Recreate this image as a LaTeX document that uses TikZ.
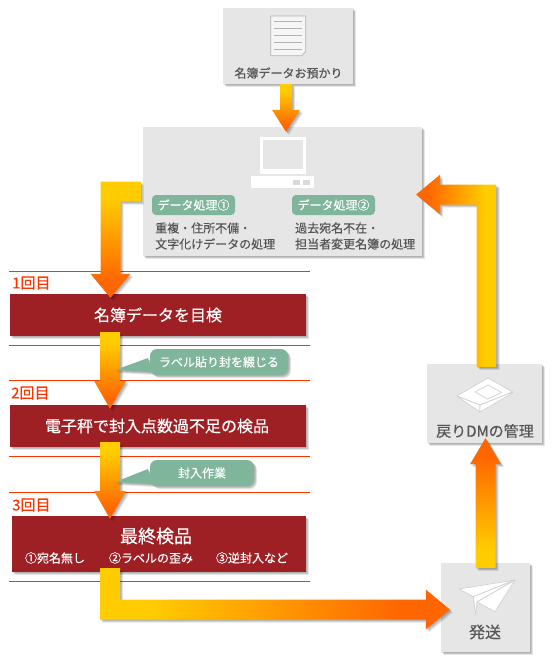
\documentclass[tikz,border=0pt]{standalone}
\usepackage{fontspec}
\setmainfont{Noto Sans CJK JP}
\newfontfamily\heavyjp[FakeBold=0.35]{Noto Sans CJK JP}
\usetikzlibrary{calc,shadows}
\definecolor{panelgray}{RGB}{230,230,230}
\definecolor{labelgray}{RGB}{85,85,85}
\definecolor{stepred}{RGB}{158,32,37}
\definecolor{ruleorange}{RGB}{255,51,0}
\definecolor{notegreen}{RGB}{127,181,155}
\definecolor{flowyellow}{RGB}{255,204,0}
\definecolor{floworange}{RGB}{255,102,0}
\pgfdeclarehorizontalshading{flowshade}{100bp}{color(0bp)=(flowyellow); color(32bp)=(flowyellow); color(68bp)=(floworange); color(100bp)=(floworange)}
\tikzset{
  softshadow/.style={
    drop shadow={shadow xshift=1pt,shadow yshift=-1pt,opacity=.10,fill=black},
    drop shadow={shadow xshift=2pt,shadow yshift=-2pt,opacity=.14,fill=black},
    drop shadow={shadow xshift=3pt,shadow yshift=-3pt,opacity=.10,fill=black}},
  panel/.style={softshadow,fill=panelgray,inner sep=0pt},
  stepbox/.style={softshadow,fill=stepred,inner sep=0pt,minimum height=42pt},
  tagbox/.style={fill=notegreen,rounded corners=4pt,inner sep=0pt,minimum width=83pt,minimum height=20pt,text=white,font=\heavyjp\fontsize{12}{12}\selectfont},
  notebox/.style={softshadow,fill=notegreen,rounded corners=7pt,inner sep=0pt,minimum height=26pt,text=white,font=\heavyjp\fontsize{12}{12}\selectfont},
  graytext/.style={text=labelgray,inner sep=0pt,font=\heavyjp\fontsize{12}{12}\selectfont},
  steptext/.style={text=white,inner sep=0pt,font=\heavyjp\fontsize{16}{16}\selectfont},
  subtext/.style={text=white,inner sep=0pt,font=\heavyjp\fontsize{12}{12}\selectfont},
  roundlabel/.style={text=ruleorange,anchor=west,inner sep=0pt,font=\heavyjp\fontsize{15}{15}\selectfont},
  iconline/.style={draw=black!18,fill=white,line width=.7pt,line join=round},
  flowarrow/.style={softshadow,shading=flowshade}
}
\newcommand{\flowstraight}[6]{%
  \coordinate (flowbase) at ($(#3)!#6pt!(#2)$);
  \shade[flowarrow,shading angle=#1]
    ($(#2)!#4pt!90:(#3)$)--($(flowbase)!#4pt!-90:(#2)$)--($(flowbase)!#5pt!-90:(#2)$)
    --(#3)--($(flowbase)!#5pt!90:(#2)$)--($(flowbase)!#4pt!90:(#2)$)
    --($(#2)!#4pt!-90:(#3)$)--cycle;
}
\newcommand{\flowbent}[4]{%
  \coordinate (flowbase) at ($(#4)!24pt!(#3)$);
  \shade[flowarrow,shading angle=#1]
    ($(#2)+(#3)!10pt!(#4)-(#3)$)--($(#3)!10pt!(#2)+(#3)!10pt!(#4)-(#3)$)
    --($(flowbase)+(#3)!10pt!(#2)-(#3)$)--($(flowbase)+(#3)!20pt!(#2)-(#3)$)
    --(#4)--($(flowbase)-(#3)!20pt!(#2)+(#3)$)--($(flowbase)-(#3)!10pt!(#2)+(#3)$)
    --($(#3)-(#3)!10pt!(#2)-(#3)!10pt!(#4)+(#3)+(#3)$)
    --($(#2)-(#3)!10pt!(#4)+(#3)$)--cycle;
}
\begin{document}
\begin{tikzpicture}[x=1pt,y=-1pt]
  \useasboundingbox (0,0) rectangle (555,665);
  \foreach \ruley in {271,345,380,456.5,492,581} {
    \draw[ruleorange,line width=.8pt] (9,\ruley)--(310,\ruley);
  }

  \node[panel,minimum width=130pt,minimum height=76pt] (intake) at (288,46) {};
  \node[panel,minimum width=279pt,minimum height=129pt] (proc) at (282.5,191.5) {};
  \node[panel,minimum width=115pt,minimum height=79pt] (return) at (484.5,403.5) {};
  \node[panel,minimum width=89pt,minimum height=89pt] (send) at (485.5,607.5) {};
  \node[stepbox,minimum width=296pt] (stepa) at (158,315) {};
  \node[stepbox,minimum width=296pt] (stepb) at (158,426) {};
  \node[stepbox,minimum width=294pt,minimum height=56pt] (stepc) at (159,544) {};

  \draw[draw=black!30,fill=black!4,line width=.7pt]
    (270.7,16)--(305.7,16)--(305.7,51.7)--(301.7,55.7)--(270.7,55.7)--cycle;
  \foreach \docy in {21.7,28.5,35.5,42.5,49.3} {
    \draw[black!30,line width=.9pt] (274,\docy)--(301.7,\docy);
  }
  \fill[white] (260,137) rectangle (306,174);
  \fill[panelgray] (263.3,140) rectangle (303.3,169.3);
  \fill[white] (251,176) rectangle (314,188);
  \fill[black!15] (293,180) rectangle (300,185);
  \fill[black!15] (303,180) rectangle (310,185);

  \draw[iconline] (456.7,396)--(488,378)--(512.7,392)--(480,405)--cycle;
  \draw[iconline] (456.7,396)--(480,412)--(480,405)--cycle;
  \draw[iconline] (480,405)--(480,412)--(512.7,393)--(512.7,392)--cycle;
  \draw[iconline] (475,392)--(488,385)--(501.7,392.5)--(487.5,399)--cycle;

  \draw[iconline] (459,589)--(515,580)--(473.3,596.7)--cycle;
  \draw[iconline] (473.3,596.7)--(515,580)--(477,602)--(475.7,615)--cycle;
  \draw[iconline] (477,602)--(515,580)--(495,611.7)--cycle;

  \node[graytext] (intakelabel) at (288.5,73) {名簿データお預かり};
  \node[tagbox] (taga) at (193.5,205) {データ処理①};
  \node[tagbox] (tagb) at (333.5,205) {データ処理②};
  \node[graytext,anchor=west,align=left] (tagatext) at (155,236)
    {重複・住所不備・\\[4pt]文字化けデータの処理};
  \node[graytext,anchor=west,align=left] (tagbtext) at (295,236)
    {過去宛名不在・\\[4pt]担当者変更名簿の処理};
  \node[graytext,font=\heavyjp\fontsize{15}{15}\selectfont] (returnlabel) at (485,431) {戻りDMの管理};
  \node[graytext,font=\heavyjp\fontsize{16}{16}\selectfont] (sendlabel) at (485,632) {発送};

  \node[roundlabel] (rounda) at (12,283) {1回目};
  \node[roundlabel] (roundb) at (11,393) {2回目};
  \node[roundlabel] (roundc) at (12,505) {3回目};
  \node[steptext] (stepatext) at (158,315) {名簿データを目検};
  \node[steptext] (stepbtext) at (157,426) {電子秤で封入点数過不足の検品};
  \node[steptext,font=\heavyjp\fontsize{18}{18}\selectfont] (stepctext) at (156,536) {最終検品};
  \node[subtext] (subtexta) at (55,558) {①宛名無し};
  \node[subtext] (subtextb) at (151,558) {②ラベルの歪み};
  \node[subtext] (subtextc) at (252,558) {③逆封入など};

  \flowstraight{-90}{[xshift=-2pt]intake.south}{[xshift=3.5pt,yshift=-5pt]proc.north}{6}{14}{22}
  \coordinate (bendproc) at (110.5,191.5);
  \flowbent{-90}{[xshift=-2pt]proc.west}{bendproc}{[xshift=-47.5pt,yshift=-4pt]stepa.north}
  \flowstraight{-90}{[xshift=-48pt,yshift=4pt]stepa.south}{[xshift=-48pt,yshift=-4pt]stepb.north}{10}{16}{28}
  \flowstraight{-90}{[xshift=-48pt,yshift=5pt]stepb.south}{[xshift=-49pt,yshift=-3pt]stepc.north}{10}{16}{28}

  \coordinate (bendnotea) at (115,370);
  \coordinate (bendnoteb) at (115,482);
  \fill[notegreen,softshadow] (bendnotea)--(148,358)--(152,372)--cycle;
  \node[notebox,minimum width=138pt] (notea) at (219,362) {ラベル貼り封を綴じる};
  \fill[notegreen,softshadow] (bendnoteb)--(148,469)--(152,484)--cycle;
  \node[notebox,minimum width=104pt] (noteb) at (202,473) {封入作業};

  \coordinate (bendsend) at (110,609.5);
  \flowbent{0}{[xshift=-49pt,yshift=4pt]stepc.south}{bendsend}{[xshift=9pt,yshift=-2pt]send.west}
  \flowstraight{90}{[yshift=-5pt]send.north}{[xshift=1pt,yshift=5pt]return.south}{10}{15.5}{26}
  \coordinate (bendreturn) at (486.5,194.5);
  \flowbent{180}{[xshift=2pt,yshift=-3pt]return.north}{bendreturn}{[xshift=-6pt,yshift=-3pt]proc.east}
\end{tikzpicture}
\end{document}
